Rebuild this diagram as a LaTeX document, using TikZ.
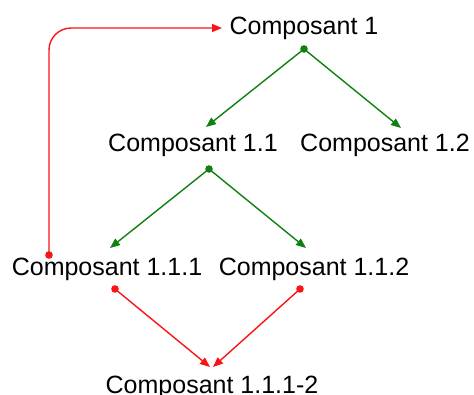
\documentclass[tikz,border=0pt]{standalone}
\usepackage{fontspec}
\setmainfont{Liberation Sans}
\usetikzlibrary{arrows.meta}
\definecolor{lgreen}{RGB}{16,128,16}
\definecolor{lred}{RGB}{250,20,20}
\begin{document}
\begin{tikzpicture}[x=1pt,y=-1pt,
  lbl/.style={inner sep=0pt,anchor=base,font=\fontsize{25}{30}\selectfont},
  gline/.style={draw=lgreen,line width=1.4pt,-{Triangle[length=10pt,width=8pt]}},
  rline/.style={draw=lred,line width=1.4pt,-{Triangle[length=10pt,width=8pt]}},
  gdot/.style={fill=lgreen},
  rdot/.style={fill=lred}]
\useasboundingbox (0,0) rectangle (474,394);
\node[lbl] (c1) at (304,34) {Composant 1};
\node[lbl] (c11) at (193,151) {Composant 1.1};
\node[lbl] (c12) at (385,151) {Composant 1.2};
\node[lbl] (c111) at (107,275) {Composant 1.1.1};
\node[lbl] (c112) at (314,275) {Composant 1.1.2};
\node[lbl] (c1112) at (212,393) {Composant 1.1.1-2};
% connector points
\coordinate (g1) at (304,49);
\coordinate (t11) at (206,127);
\coordinate (t12) at (401,128);
\coordinate (g2) at (209,169);
\coordinate (t111) at (110,248);
\coordinate (t112) at (306,248);
\coordinate (r0) at (49,255);
\coordinate (t1) at (222,28);
\coordinate (r1) at (115,289);
\coordinate (r2) at (300,289);
\coordinate (tb1) at (210,367);
\coordinate (tb2) at (213,367);
\draw[gline] (g1) -- (t11);
\draw[gline] (g1) -- (t12);
\draw[gline] (g2) -- (t111);
\draw[gline] (g2) -- (t112);
\fill[gdot] (g1) circle (3.8);
\fill[gdot] (g2) circle (3.8);
\draw[rline,rounded corners=22pt] (r0) -- (r0 |- t1) -- (t1);
\draw[rline] (r1) -- (tb1);
\draw[rline] (r2) -- (tb2);
\fill[rdot] (r0) circle (3.8);
\fill[rdot] (r1) circle (3.8);
\fill[rdot] (r2) circle (3.8);
\end{tikzpicture}
\end{document}
